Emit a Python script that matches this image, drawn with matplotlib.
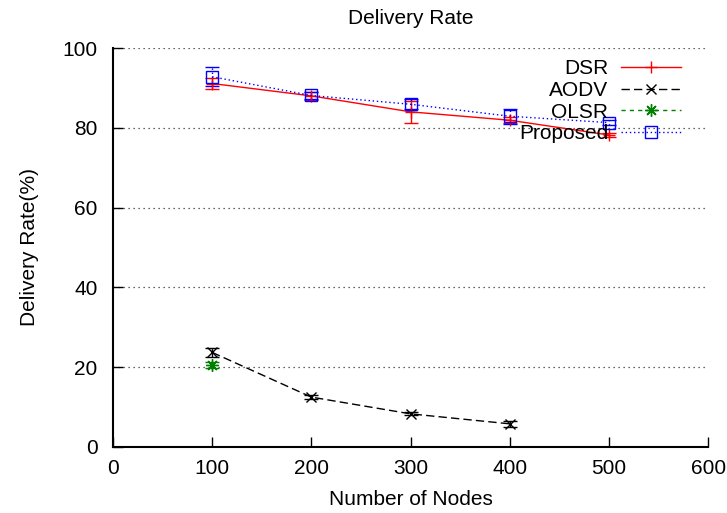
import matplotlib
matplotlib.use("Agg")
import matplotlib.pyplot as plt
from matplotlib.lines import Line2D

plt.rcParams["font.family"] = ["Liberation Sans", "DejaVu Sans"]

nodes = [100, 200, 300, 400, 500]
dsr = [91.1, 88.0, 84.0, 81.9, 78.2]
dsr_err = [1.3, 1.0, 2.8, 0.8, 0.5]
aodv_nodes = [100, 200, 300, 400]
aodv = [23.7, 12.5, 8.3, 5.8]
aodv_err = [1.2, 0.5, 0.4, 0.8]
olsr_nodes = [100]
olsr = [20.6]
olsr_err = [0.8]
proposed = [92.8, 88.1, 85.9, 82.9, 81.3]
proposed_err = [2.4, 1.0, 1.2, 1.9, 0.6]

styles = {
    "DSR": dict(color="red", ls="-", marker="+", ms=9, mew=1),
    "AODV": dict(color="black", ls=(0, (6, 3)), marker="x", ms=7, mew=1),
    "OLSR": dict(color="#008000", ls=(0, (3, 3)), marker=(8, 2, 0), ms=9, mew=1),
    "Proposed": dict(color="blue", ls=(0, (1, 2)), marker="s", ms=8.5,
                     mfc="none", mew=1),
}

fig = plt.figure(figsize=(7.27, 5.13), dpi=100)
ax = fig.add_axes([0.1554, 0.1287, 0.8187, 0.7777])

for name, xs, ys, err in [("DSR", nodes, dsr, dsr_err),
                          ("AODV", aodv_nodes, aodv, aodv_err),
                          ("OLSR", olsr_nodes, olsr, olsr_err),
                          ("Proposed", nodes, proposed, proposed_err)]:
    st = styles[name]
    eb = ax.errorbar(xs, ys, yerr=err, lw=1, capsize=5, elinewidth=1, **st)
    for bar in eb[2]:
        bar.set_linestyle(st["ls"])

ax.set_xlim(0, 600)
ax.set_ylim(0, 100)
ax.set_xticks([0, 100, 200, 300, 400, 500, 600])
ax.set_yticks([0, 20, 40, 60, 80, 100])
ax.tick_params(direction="in", length=7, width=1, labelsize=15)
ax.tick_params(axis="x", pad=9)
ax.tick_params(axis="y", pad=11)
ax.yaxis.grid(True, ls=(0, (1, 3)), color="#333333", lw=0.9)
ax.spines["top"].set_visible(False)
ax.spines["right"].set_visible(False)
ax.spines["left"].set_linewidth(1.5)
ax.spines["bottom"].set_linewidth(1.5)

ax.set_title("Delivery Rate", fontsize=15, pad=17)
ax.set_xlabel("Number of Nodes", fontsize=15, labelpad=8)
ax.set_ylabel("Delivery Rate(%)", fontsize=15, labelpad=17)

handles = [Line2D([], [], lw=1, **styles[n]) for n in styles]
ax.legend(handles, list(styles), loc="upper right",
          bbox_to_anchor=(0.972, 0.998), frameon=False, markerfirst=False,
          fontsize=15, handlelength=2.9, labelspacing=0.13,
          handletextpad=0.6, borderpad=0)

fig.savefig("out.png", dpi=100)
